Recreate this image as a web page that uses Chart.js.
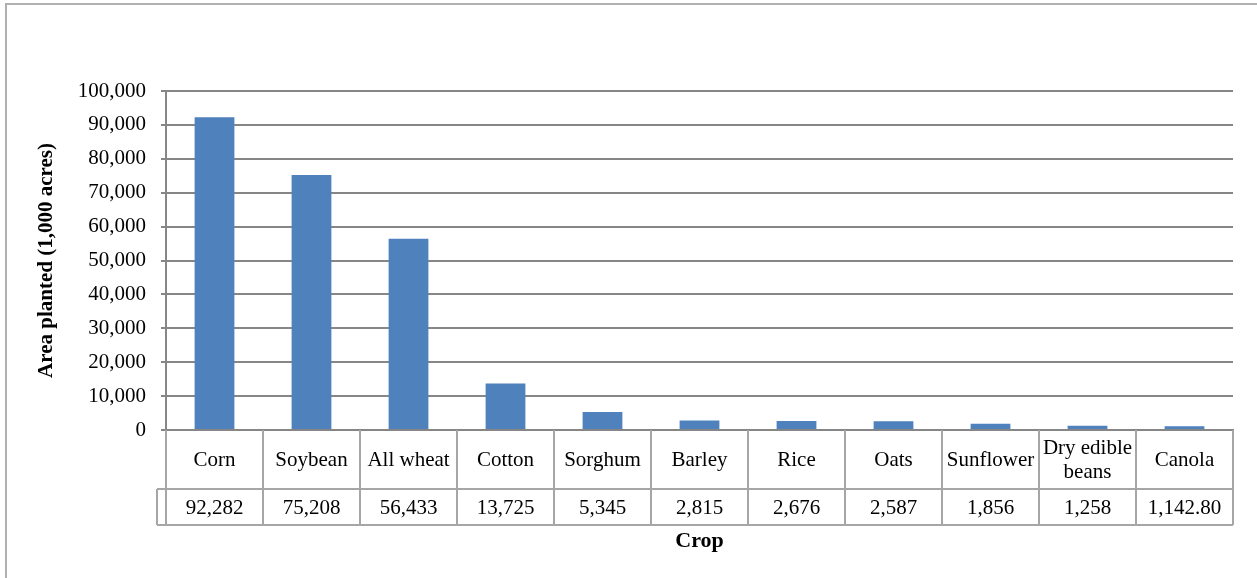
<!DOCTYPE html>
<html lang="en">
<head>
    <meta charset="UTF-8">
    <title>Area planted by crop</title>
    <script src="https://cdn.jsdelivr.net/npm/chart.js"></script>
    <style>
        html, body { margin: 0; padding: 0; background: #fff; overflow: hidden; }
        #wrap { width: 1257px; height: 578px; position: relative; }
    </style>
</head>
<body>
    <div id="wrap"><canvas id="cropChart" width="1257" height="578"></canvas></div>

    <script>
// Data
const crops = ["Corn", "Soybean", "All wheat", "Cotton", "Sorghum", "Barley", "Rice", "Oats", "Sunflower", ["Dry edible", "beans"], "Canola"];
const areaPlanted = [92282, 75208, 56433, 13725, 5345, 2815, 2676, 2587, 1856, 1258, 1142.80];
const tableValues = ["92,282", "75,208", "56,433", "13,725", "5,345", "2,815", "2,676", "2,587", "1,856", "1,258", "1,142.80"];

const serif = "'Liberation Serif', 'Times New Roman', serif";
const lineGray = "#a6a6a6";

// Outer frame + Excel style data table under the x axis
const dataTable = {
    id: "dataTable",
    beforeDraw(chart) {
        const ctx = chart.ctx;
        ctx.save();
        ctx.fillStyle = "#fff";
        ctx.fillRect(0, 0, chart.width, chart.height);
        ctx.strokeStyle = "#b0b0b0";
        ctx.lineWidth = 2;
        ctx.strokeRect(6, 4, chart.width + 10, chart.height + 10);
        ctx.restore();
    },
    afterDraw(chart) {
        const ctx = chart.ctx;
        const x = chart.scales.x;
        const area = chart.chartArea;
        const top = area.bottom;
        const mid = top + 59;
        const bot = top + 95;
        const stub = area.left - 9;
        const n = crops.length;
        const edge = i => (i === 0 ? area.left : i === n ? area.right : (x.getPixelForValue(i - 1) + x.getPixelForValue(i)) / 2);

        ctx.save();
        ctx.strokeStyle = lineGray;
        ctx.lineWidth = 2;
        ctx.beginPath();
        for (let i = 0; i <= n; i++) {
            const px = Math.round(edge(i));
            ctx.moveTo(px, top);
            ctx.lineTo(px, bot);
        }
        ctx.moveTo(stub, mid);
        ctx.lineTo(area.right, mid);
        ctx.moveTo(stub, bot);
        ctx.lineTo(area.right, bot);
        ctx.moveTo(stub, mid);
        ctx.lineTo(stub, bot);
        ctx.stroke();

        ctx.fillStyle = "#000";
        ctx.textAlign = "center";
        ctx.textBaseline = "middle";
        ctx.font = "21px " + serif;
        crops.forEach((c, i) => {
            const cx = x.getPixelForValue(i);
            const cy = (top + mid) / 2 + 1;
            if (Array.isArray(c)) {
                ctx.fillText(c[0], cx, cy - 12);
                ctx.fillText(c[1], cx, cy + 12);
            } else {
                ctx.fillText(c, cx, cy);
            }
        });
        tableValues.forEach((v, i) => {
            ctx.fillText(v, x.getPixelForValue(i), (mid + bot) / 2 + 1);
        });
        ctx.restore();
    }
};

new Chart(document.getElementById("cropChart"), {
    type: "bar",
    data: {
        labels: crops,
        datasets: [{
            label: "Area planted",
            data: areaPlanted,
            backgroundColor: "#4f81bd",
            borderWidth: 0,
            categoryPercentage: 1,
            barPercentage: 0.41
        }]
    },
    options: {
        responsive: false,
        animation: false,
        devicePixelRatio: 1,
        layout: { padding: { top: 91, right: 24, bottom: 0, left: 0 } },
        plugins: { legend: { display: false }, tooltip: { enabled: false } },
        scales: {
            x: {
                ticks: { display: false },
                grid: { display: false },
                border: { display: true, color: "#868686", width: 2 },
                title: {
                    display: true,
                    text: "Crop",
                    color: "#000",
                    font: { family: serif, size: 22, weight: "bold" },
                    padding: { top: 0, bottom: 23 }
                },
                afterFit(scale) { scale.height = 148; }
            },
            y: {
                min: 0,
                max: 100000,
                ticks: {
                    stepSize: 10000,
                    color: "#000",
                    padding: 15,
                    font: { family: serif, size: 21 },
                    callback: v => v.toLocaleString("en-US")
                },
                grid: { color: "#868686", lineWidth: 2, tickLength: 5 },
                border: { display: true, color: "#868686", width: 2 },
                title: {
                    display: true,
                    text: "Area planted (1,000 acres)",
                    color: "#000",
                    font: { family: serif, size: 21, weight: "bold" },
                    padding: { top: 34, bottom: 0 }
                },
                afterFit(scale) { scale.width = 166; }
            }
        }
    },
    plugins: [dataTable]
});
    </script>
</body>
</html>
